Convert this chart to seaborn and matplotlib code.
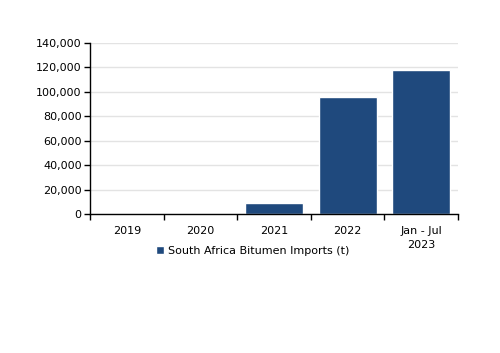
import matplotlib
matplotlib.use("Agg")
import matplotlib.pyplot as plt
import seaborn as sns
import pandas as pd
from matplotlib.ticker import FuncFormatter, FixedLocator

categories = ["2019", "2020", "2021", "2022", "Jan - Jul\n2023"]
imports_t = [0, 0, 9000, 95500, 118000]
series_name = "South Africa Bitumen Imports (t)"

df = pd.DataFrame({"cat": categories, "val": imports_t, "series": series_name})

sns.set_theme(style="white")
plt.rcParams['font.family'] = ['DejaVu Sans']
plt.rcParams['text.color'] = 'black'
plt.rcParams['xtick.color'] = 'black'
plt.rcParams['ytick.color'] = 'black'

fig = plt.figure(figsize=(5.0, 3.53), dpi=100)
ax = fig.add_axes([0.18, 0.394, 0.736, 0.484])

sns.barplot(data=df, x="cat", y="val", hue="series", palette=["#1F497D"],
            width=0.79, dodge=False, ax=ax, saturation=1, legend=True)

ax.set_ylim(0, 140000)
ax.set_xlim(-0.5, 4.5)
ax.set_yticks(range(0, 140001, 20000))
ax.yaxis.set_major_formatter(FuncFormatter(lambda v, p: f"{int(v):,}"))
ax.grid(axis="y", color="#e3e3e3", linewidth=1)
ax.set_axisbelow(True)
ax.set_xlabel("")
ax.set_ylabel("")

for s in ["top", "right"]:
    ax.spines[s].set_visible(False)
for s in ["left", "bottom"]:
    ax.spines[s].set_color("black")
    ax.spines[s].set_linewidth(1)

ax.tick_params(axis="y", which="major", left=True, length=4, width=1, color="black",
               labelsize=8, pad=2, direction="out", labelcolor="black")
ax.tick_params(axis="x", which="major", bottom=False, labelsize=8, pad=3, labelcolor="black")
for lbl in ax.get_xticklabels():
    lbl.set_linespacing(1.5)
ax.xaxis.set_minor_locator(FixedLocator([-0.5, 0.5, 1.5, 2.5, 3.5, 4.5]))
ax.tick_params(axis="x", which="minor", bottom=True, length=4, width=1, color="black",
               direction="out")

leg = ax.legend(loc="center", bbox_to_anchor=(0.442, -0.215), frameon=False,
                fontsize=8, handlelength=0.7, handleheight=0.7, handletextpad=0.3)

fig.savefig("out.png", dpi=100)
